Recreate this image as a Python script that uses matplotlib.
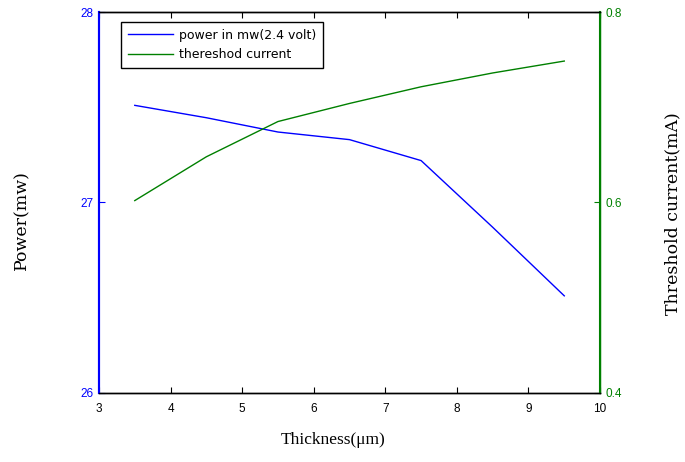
import matplotlib
matplotlib.use('Agg')
import matplotlib.pyplot as plt

thickness = [3.5, 4.5, 5.5, 6.5, 7.5, 8.5, 9.5]
power_mw = [27.51, 27.445, 27.37, 27.33, 27.22, 26.87, 26.51]
threshold_ma = [0.602, 0.648, 0.685, 0.704, 0.7215, 0.736, 0.7485]

xticks = [3, 4, 5, 6, 7, 8, 9, 10]
left_ticks = [26, 27, 28]
right_ticks = [0.4, 0.6, 0.8]
right_labels = ['0.4', '0.6', '0.8']

blue = '#0000ff'
green = '#008000'

fig = plt.figure(figsize=(6.85, 4.62), dpi=100)
ax = fig.add_axes([0.1445, 0.1494, 0.7315, 0.8246])
ax2 = ax.twinx()

l1, = ax.plot(thickness, power_mw, color=blue, lw=1, label='power in mw(2.4 volt)')
l2, = ax2.plot(thickness, threshold_ma, color=green, lw=1, label='thereshod current')

ax.set_xlim(3, 10)
ax.set_ylim(26, 28)
ax2.set_ylim(0.4, 0.8)
ax.set_xticks(xticks)
ax.set_yticks(left_ticks)
ax2.set_yticks(right_ticks)
ax2.set_yticklabels(right_labels)

ax.tick_params(axis='x', direction='in', top=True, length=4, pad=7, labelsize=8.5)
ax.tick_params(axis='y', direction='in', colors=blue, length=4, pad=4, labelsize=8.5)
ax2.tick_params(axis='y', direction='in', colors=green, length=4, pad=4, labelsize=8.5)
for lab in ax.get_xticklabels() + ax.get_yticklabels() + ax2.get_yticklabels():
    lab.set_fontfamily('Liberation Sans')

ax.spines['left'].set_color(blue)
ax2.spines['left'].set_color(blue)
ax2.spines['right'].set_color(green)
ax.spines['right'].set_color(green)
for a in (ax, ax2):
    a.spines['top'].set_color('black')
    a.spines['bottom'].set_color('black')
    for sp in a.spines.values():
        sp.set_linewidth(1)
ax.spines['left'].set_linewidth(1.5)
ax2.spines['left'].set_linewidth(1.5)
ax2.spines['right'].set_linewidth(1.5)

ax.set_xlabel('Thickness(μm)', family='Liberation Serif', fontsize=12.5)
ax.xaxis.label.set_va('center')
ax.xaxis.set_label_coords(0.467, -0.123)

ax.set_ylabel('Power(mw)', family='DejaVu Serif', fontsize=12.5)
ax.yaxis.label.set_va('center')
ax.yaxis.set_label_coords(-0.154, 0.454)

ax2.set_ylabel('Threshold current(mA)', family='DejaVu Serif', fontsize=12.5)
ax2.yaxis.label.set_va('center')
ax2.yaxis.set_label_coords(1.146, 0.47)

leg = ax.legend(handles=[l1, l2], loc='upper left', bbox_to_anchor=(0.0439, 0.974),
                prop={'family': 'DejaVu Sans', 'size': 9}, fancybox=False,
                framealpha=1, edgecolor='black', handlelength=3.6, borderpad=0.55,
                labelspacing=0.5, handletextpad=0.5, borderaxespad=0)
leg.get_frame().set_linewidth(1)

fig.savefig('out.png', dpi=100)
